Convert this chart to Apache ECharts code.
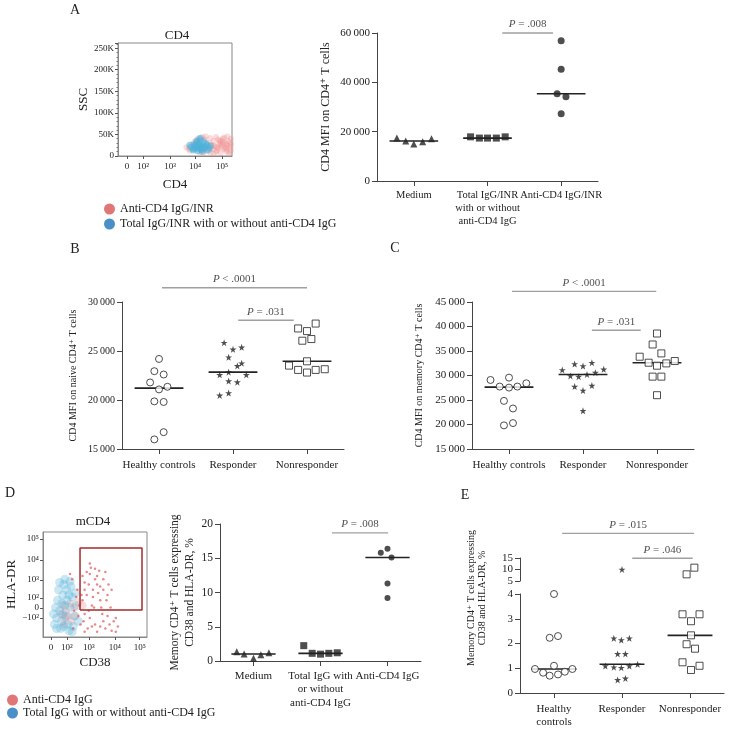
<!DOCTYPE html>
<html>
<head>
<meta charset="utf-8">
<script src="https://cdn.jsdelivr.net/npm/echarts@6/dist/echarts.min.js"></script>
<style>
html, body { margin: 0; padding: 0; background: #fff; }
#fig { width: 731px; height: 729px; }
</style>
</head>
<body>
<div id="fig"></div>
<script>
// ---- data ----
// A: flow plot, x in plot units (0..1 over biexponential scale), y = SSC in K
var flowAXPos = [0.079, 0.22, 0.456, 0.675, 0.912];
var flowAXLabels = ["0", "10\u00b2", "10\u00b3", "10\u2074", "10\u2075"];
var flowARed = [[0.85,22],[0.90,25],[0.95,28],[0.98,20],[0.88,18],[0.93,15],[0.80,30],[0.84,35],[0.92,33],[0.97,35],
  [0.78,12],[0.86,10],[0.95,11],[0.99,14],[0.82,26],[0.89,29],[0.96,24],[0.76,38],[0.88,38],[0.94,19],
  [0.99,30],[0.83,16],[0.91,21],[0.87,13],[0.79,20],[0.62,16],[0.65,28],[0.75,8],[0.98,9],[0.92,40],
  [0.60,20],[0.63,12],[0.67,33],[0.70,40],[0.72,8],[0.74,44],[0.77,45],[0.81,42],[0.84,6],[0.86,44],
  [0.90,7],[0.93,43],[0.96,45],[0.99,40],[0.97,5],[0.90,36],[0.84,24],[0.94,31],[0.81,8],[0.70,35],
  [0.99,25],[0.89,33],[0.92,27],[0.87,20],[0.95,17]];
var flowABlue = [[0.72,21],[0.70,18],[0.74,24],[0.68,22],[0.76,20],[0.71,27],[0.73,15],[0.66,17],[0.78,25],[0.69,30],
  [0.75,33],[0.72,37],[0.64,20],[0.80,18],[0.67,26],[0.77,29],[0.70,12],[0.74,11],[0.63,25],[0.81,23],
  [0.72,41],[0.69,35],[0.66,14],[0.79,14],[0.73,19],[0.71,23],[0.75,16],[0.68,19]];

// A: scatter
var catsA = ["Medium", "Total IgG/INR\nwith or without\nanti-CD4 IgG", "Anti-CD4 IgG/INR"];
var aMedium = [17400, 16200, 15000, 15900, 17100];
var aTotal = [17900, 17400, 17400, 17400, 17900];
var aAnti = [56900, 45300, 35400, 34200, 27300];
var jitAMed = [-0.23, -0.11, 0, 0.12, 0.24];
var jitATot = [-0.23, -0.11, 0, 0.12, 0.24];
var jitAAnti = [0, 0, -0.055, 0.065, 0];

// B / C
var catsBC = ["Healthy controls", "Responder", "Nonresponder"];
var bHealthy = [24190, 22940, 22600, 21790, 21080, 21350, 19860, 19800, 16720, 15980];
var bResponder = [25845, 25170, 25370, 24360, 23480, 23750, 22570, 22840, 22570, 21930, 21820, 20470, 20710];
var bNonresp = [27800, 27300, 27030, 26050, 26220, 23950, 23510, 23070, 22800, 23070, 23140];
var jitBH = [0, -0.063, 0.063, -0.12, 0, 0.114, -0.063, 0.063, 0.063, -0.063];
var jitBR = [-0.12, 0, 0.117, -0.059, 0.059, 0.117, -0.18, -0.059, 0.18, -0.059, 0.059, -0.18, -0.059];
var jitBN = [0.117, -0.12, 0, -0.063, 0.059, 0, -0.243, -0.12, 0, 0.117, 0.24];

var cHealthy = [29090, 29560, 27740, 27530, 27740, 28410, 24820, 23270, 19820, 20290];
var cResponder = [31120, 32340, 31930, 32610, 31260, 29900, 29770, 30200, 30580, 27740, 26930, 27940, 22800];
var cNonresp = [38570, 36330, 34510, 33830, 32610, 32000, 32470, 32950, 29770, 29770, 25980];
var jitCH = [-0.25, 0, -0.126, 0, 0.113, 0.234, -0.068, 0.054, -0.068, 0.054];
var jitCR = [-0.28, -0.113, 0, 0.12, 0.28, -0.17, -0.059, 0.054, 0.167, -0.113, 0, 0.12, 0];
var jitCN = [0, -0.059, 0.059, -0.234, -0.113, 0, 0.126, 0.24, -0.059, 0.059, 0];

// D: flow plot, both axes in plot units (0..1)
var flowDXPos = [0.077, 0.23, 0.44, 0.69, 0.93];
var flowDXLabels = ["0", "10\u00b2", "10\u00b3", "10\u2074", "10\u2075"];
var flowDYPos = [0.181, 0.276, 0.371, 0.543, 0.733, 0.933];
var flowDYLabels = ["\u221210\u00b2", "0", "10\u00b2", "10\u00b3", "10\u2074", "10\u2075"];
var gateD = [[0.356,0.257],[0.952,0.257],[0.952,0.848],[0.356,0.848],[0.356,0.257]];
var flowDRed = [[0.30,0.25],[0.35,0.30],[0.38,0.35],[0.40,0.22],[0.45,0.18],[0.50,0.12],
  [0.55,0.10],[0.60,0.08],[0.42,0.40],[0.48,0.45],[0.52,0.50],[0.58,0.55],[0.45,0.60],[0.40,0.52],[0.55,0.35],[0.62,0.40],
  [0.65,0.28],[0.68,0.15],[0.70,0.05],[0.50,0.65],[0.38,0.58],[0.60,0.62],[0.33,0.45],[0.28,0.55],[0.47,0.30],[0.57,0.22],
  [0.43,0.08],[0.36,0.12],[0.26,0.60],[0.53,0.42],[0.63,0.50],
  [0.40,0.45],[0.44,0.50],[0.48,0.38],[0.52,0.58],[0.46,0.66],[0.55,0.48],[0.42,0.62],[0.50,0.55],[0.58,0.45],[0.61,0.35],
  [0.37,0.40],[0.45,0.70],[0.54,0.63],[0.49,0.28],[0.66,0.45],[0.52,0.05],[0.58,0.15],[0.64,0.12],[0.70,0.18],[0.72,0.10],
  [0.47,0.10],[0.40,0.05],[0.62,0.20],[0.66,0.06],[0.34,0.20],[0.39,0.15],[0.44,0.25],[0.32,0.38],[0.56,0.28],[0.29,0.08]];
var flowDRedCore = [[0.20,0.12],[0.21,0.18],[0.22,0.25],[0.19,0.30],[0.24,0.20],[0.26,0.32],[0.30,0.28],[0.34,0.33],
  [0.38,0.30],[0.27,0.15],[0.31,0.20],[0.17,0.22]];
var flowDBlue = [[0.21,0.30],[0.19,0.40],[0.23,0.45],[0.20,0.50],[0.22,0.20],[0.18,0.15],[0.24,0.12],[0.16,0.25],[0.26,0.28],[0.14,0.35],
  [0.28,0.38],[0.17,0.08],[0.25,0.06],[0.13,0.18],[0.30,0.20],[0.21,0.55],[0.15,0.45],[0.27,0.48],[0.12,0.28],[0.32,0.30],
  [0.19,0.22],[0.23,0.35],[0.20,0.10],[0.29,0.10],[0.11,0.12],[0.34,0.15],[0.18,0.32],[0.25,0.40],
  [0.16,0.52],[0.26,0.53],[0.13,0.08],[0.28,0.05],[0.31,0.42],[0.10,0.22]];

// D: scatter
var catsD = ["Medium", "Total IgG with\nor without\nanti-CD4 IgG", "Anti-CD4 IgG"];
var dMedium = [1.36, 1.02, 0.39, 0.9, 1.21];
var dTotal = [2.24, 1.12, 1.0, 1.12, 1.2];
var dAnti = [16.4, 15.8, 15.1, 11.3, 9.2];
var jitDMed = [-0.25, -0.14, 0, 0.11, 0.23];
var jitDTot = [-0.25, -0.124, 0, 0.124, 0.25];
var jitDAnti = [0, -0.1, 0.06, 0, 0];

// E: broken axis (0-4 and 5-15)
var catsE = ["Healthy\ncontrols", "Responder", "Nonresponder"];
var eHealthy = [4.0, 2.23, 2.3, 1.1, 0.97, 0.82, 0.7, 0.75, 0.86, 0.97];
var eResponder = [10, 2.21, 2.14, 2.21, 1.58, 1.58, 1.09, 1.04, 1.02, 1.09, 1.16, 0.53, 0.59];
var eNonresp = [7.9, 10.8, 3.18, 3.18, 2.9, 2.33, 1.97, 1.79, 1.24, 0.93, 1.1];
var jitEH = [0, -0.064, 0.059, 0, -0.28, -0.16, -0.064, 0.059, 0.16, 0.27];
var jitER = [0, -0.12, -0.01, 0.108, -0.064, 0.05, -0.245, -0.12, -0.01, 0.108, 0.23, -0.064, 0.05];
var jitEN = [-0.05, 0.064, -0.11, 0.14, 0.015, 0.015, -0.05, 0.074, -0.11, 0.015, 0.14];
var eBreak = 4.5;

// significance bars: [axis, x1, x2, y, text]
var sigBars = [
  [1, 1.70, 2.39, 60000, "{i|P} = .008"],
  [2, 0.54, 2.50, 31460, "{i|P} < .0001"],
  [2, 1.57, 2.32, 28144, "{i|P} = .031"],
  [3, 0.54, 2.49, 47170, "{i|P} < .0001"],
  [3, 1.62, 2.28, 39245, "{i|P} = .031"],
  [5, 1.67, 2.51, 18.7, "{i|P} = .008"],
  [7, 0.62, 2.56, 25.7, "{i|P} = .015"],
  [7, 1.65, 2.54, 14.9, "{i|P} = .046"]
];

// ---- drawing ----
var SERIF = "'Liberation Serif', 'DejaVu Serif', serif";
var INK = "#222";
var AX = { color: "#444", width: 1 };
var STAR = "path://M50,0L61.8,35.3L99,35.3L68.9,57.1L80.4,92.7L50,70.9L19.6,92.7L31.1,57.1L1,35.3L38.2,35.3Z";
var RED = "#ee8a8a";
var BLUE = "#4fb0d8";

function median(a) {
  var s = a.slice().sort(function (p, q) { return p - q; });
  var n = s.length;
  return n % 2 ? s[(n - 1) / 2] : (s[n / 2 - 1] + s[n / 2]) / 2;
}

var series = [];

function group(ax, vals, jit, g, symbol, size, hollow, keep) {
  var pts = [];
  vals.forEach(function (v, i) {
    if (!keep || keep(v)) pts.push([g + 0.5 + jit[i], v]);
  });
  series.push({
    type: "scatter", xAxisIndex: ax, yAxisIndex: ax, data: pts,
    symbol: symbol, symbolSize: size, silent: true, z: 4,
    itemStyle: hollow ? { color: "#fff", borderColor: INK, borderWidth: 1 } : { color: INK }
  });
}

function medLine(ax, vals, g) {
  var m = median(vals);
  series.push({
    type: "line", xAxisIndex: ax, yAxisIndex: ax, data: [[g + 0.17, m], [g + 0.83, m]],
    symbol: "none", silent: true, z: 3, lineStyle: { color: INK, width: 1.6 }
  });
}

function catX(grid, cats, fontSize, margin) {
  return {
    gridIndex: grid, type: "value", min: 0, max: 3,
    axisLine: { show: true, onZero: false, lineStyle: AX },
    axisTick: { show: true, length: 5, customValues: [0.5, 1.5, 2.5], lineStyle: AX },
    axisLabel: {
      customValues: [0.5, 1.5, 2.5], margin: margin, fontFamily: SERIF, fontSize: fontSize,
      color: INK, lineHeight: fontSize + 2.5,
      formatter: function (v) { return cats[Math.floor(v)]; }
    },
    splitLine: { show: false }
  };
}

function valY(grid, min, max, interval, fontSize, fmt, name, nameSize, nameGap, nameLH) {
  return {
    gridIndex: grid, type: "value", min: min, max: max, interval: interval,
    axisLine: { show: true, lineStyle: AX },
    axisTick: { show: true, length: 5, lineStyle: AX },
    axisLabel: { margin: 7, fontFamily: SERIF, fontSize: fontSize, color: INK, formatter: fmt },
    splitLine: { show: false },
    name: name, nameLocation: "middle", nameGap: nameGap,
    nameTextStyle: { fontFamily: SERIF, fontSize: nameSize, color: INK, lineHeight: nameLH || nameSize + 2 }
  };
}

function thousands(v) {
  if (v < 1000) return String(v);
  var s = String(v);
  return s.slice(0, s.length - 3) + "\u2009" + s.slice(s.length - 3);
}
function plain(v) { return String(v); }

function flowAxis(grid, pos, labels, name, nameGap, isY) {
  return {
    gridIndex: grid, type: "value", min: 0, max: 1,
    axisLine: { show: true, onZero: false, lineStyle: { color: "#888" } },
    axisTick: { show: true, length: 3, customValues: pos, lineStyle: { color: "#555" } },
    axisLabel: {
      customValues: pos, margin: isY ? 4 : 6, fontFamily: SERIF, fontSize: 9, color: INK,
      formatter: function (v) { return labels[pos.indexOf(v)]; }
    },
    splitLine: { show: false },
    name: name, nameLocation: "middle", nameGap: nameGap,
    nameTextStyle: { fontFamily: SERIF, fontSize: 13, color: INK }
  };
}

// flow clouds
function cloud(ax, name, pts, color, size, op) {
  series.push({
    type: "scatter", name: name, xAxisIndex: ax, yAxisIndex: ax, data: pts,
    symbolSize: size, silent: true, z: 2, itemStyle: { color: color, opacity: op }
  });
}
cloud(0, "Anti-CD4 IgG/INR", flowARed, RED, 6, 0.3);
cloud(0, "Total IgG/INR with or without anti-CD4 IgG", flowABlue, BLUE, 7, 0.55);
cloud(4, "Anti-CD4 IgG", flowDRedCore, RED, 8, 0.3);
cloud(4, "Total IgG with or without anti-CD4 IgG", flowDBlue, BLUE, 9, 0.3);
cloud(4, "Anti-CD4 IgG", flowDRed, "#e06060", 2.5, 0.75);
series.push({
  type: "line", xAxisIndex: 4, yAxisIndex: 4, data: gateD, symbol: "none", silent: true, z: 5,
  lineStyle: { color: "#a52a2a", width: 1.5 }
});

// A scatter
group(1, aMedium, jitAMed, 0, "triangle", 7, false);
group(1, aTotal, jitATot, 1, "rect", 7, false);
group(1, aAnti, jitAAnti, 2, "circle", 7, false);
medLine(1, aMedium, 0); medLine(1, aTotal, 1); medLine(1, aAnti, 2);

// B
group(2, bHealthy, jitBH, 0, "circle", 7, true);
group(2, bResponder, jitBR, 1, STAR, 7, false);
group(2, bNonresp, jitBN, 2, "rect", 7, true);
medLine(2, bHealthy, 0); medLine(2, bResponder, 1); medLine(2, bNonresp, 2);

// C
group(3, cHealthy, jitCH, 0, "circle", 7, true);
group(3, cResponder, jitCR, 1, STAR, 7, false);
group(3, cNonresp, jitCN, 2, "rect", 7, true);
medLine(3, cHealthy, 0); medLine(3, cResponder, 1); medLine(3, cNonresp, 2);

// D scatter
group(5, dMedium, jitDMed, 0, "triangle", 7, false);
group(5, dTotal, jitDTot, 1, "rect", 7, false);
group(5, dAnti, jitDAnti, 2, "circle", 6, false);
medLine(5, dMedium, 0); medLine(5, dTotal, 1); medLine(5, dAnti, 2);

// E broken axis
var low = function (v) { return v <= eBreak; };
var high = function (v) { return v > eBreak; };
[[eHealthy, jitEH, "circle", true], [eResponder, jitER, STAR, false], [eNonresp, jitEN, "rect", true]].forEach(function (d, g) {
  group(6, d[0], d[1], g, d[2], 7, d[3], low);
  group(7, d[0], d[1], g, d[2], 7, d[3], high);
  medLine(6, d[0], g);
});

// significance bars
sigBars.forEach(function (s) {
  series.push({
    type: "line", xAxisIndex: s[0], yAxisIndex: s[0], data: [[s[1], s[3]], [s[2], s[3]]],
    symbol: "none", clip: false, silent: true, lineStyle: { color: "#a0a0a0", width: 1.4 }
  });
  series.push({
    type: "scatter", xAxisIndex: s[0], yAxisIndex: s[0], data: [[(s[1] + s[2]) / 2, s[3]]],
    symbolSize: 0, clip: false, silent: true,
    label: {
      show: true, position: "top", distance: 3, formatter: s[4],
      fontFamily: SERIF, fontSize: 11, color: INK,
      rich: { i: { fontStyle: "italic", fontFamily: SERIF, fontSize: 11, color: INK } }
    }
  });
});

function txt(t, x, y, size, align) {
  return {
    type: "text", x: x, y: y, silent: true,
    style: { text: t, font: size + "px " + SERIF, fill: INK, textAlign: align || "center", textVerticalAlign: "middle" }
  };
}

var option = {
  animation: false,
  backgroundColor: "#fff",
  textStyle: { fontFamily: SERIF },
  grid: [
    { left: 118, top: 43, width: 114, height: 113, show: true, borderColor: "#888", borderWidth: 1 },
    { left: 377, top: 33, width: 221, height: 148 },
    { left: 122, top: 302, width: 222, height: 147 },
    { left: 472, top: 302, width: 222, height: 147 },
    { left: 43, top: 532, width: 104, height: 105, show: true, borderColor: "#888", borderWidth: 1 },
    { left: 220, top: 524, width: 201, height: 137 },
    { left: 520, top: 594, width: 204, height: 99 },
    { left: 520, top: 558, width: 204, height: 23 }
  ],
  xAxis: [
    flowAxis(0, flowAXPos, flowAXLabels, "CD4", 22, false),
    catX(1, catsA, 10.5, 8),
    catX(2, catsBC, 11, 9),
    catX(3, catsBC, 11, 9),
    flowAxis(4, flowDXPos, flowDXLabels, "CD38", 19, false),
    catX(5, catsD, 11, 8),
    catX(6, catsE, 11, 9),
    { gridIndex: 7, type: "value", min: 0, max: 3, show: false }
  ],
  yAxis: [
    {
      gridIndex: 0, type: "value", min: 0, max: 262, interval: 50,
      axisLine: { show: true, lineStyle: { color: "#888" } },
      axisTick: { show: true, length: 3, lineStyle: { color: "#555" } },
      minorTick: { show: true, splitNumber: 5, length: 1.5, lineStyle: { color: "#777" } },
      axisLabel: { margin: 4, fontFamily: SERIF, fontSize: 9, color: INK,
        formatter: function (v) { return v === 0 ? "0" : v + "K"; } },
      splitLine: { show: false },
      name: "SSC", nameLocation: "middle", nameGap: 28,
      nameTextStyle: { fontFamily: SERIF, fontSize: 13, color: INK }
    },
    valY(1, 0, 60000, 20000, 11, thousands, "CD4 MFI on CD4\u207a T cells", 12, 44),
    valY(2, 15000, 30000, 5000, 10, thousands, "CD4 MFI on naive CD4\u207a T cells", 10, 43),
    valY(3, 15000, 45000, 5000, 11, thousands, "CD4 MFI on memory CD4\u207a T cells", 10, 47),
    flowAxis(4, flowDYPos, flowDYLabels, "HLA-DR", 24, true),
    valY(5, 0, 20, 5, 11.5, plain, "Memory CD4\u207a T cells expressing\nCD38 and HLA-DR, %", 11.5, 23, 15),
    valY(6, 0, 4, 1, 11, plain, "", 10, 30),
    valY(7, 5, 15, 5, 11, plain, "", 10, 30)
  ],
  legend: [
    {
      left: 99, top: 198, orient: "vertical", icon: "circle", itemWidth: 11, itemHeight: 11, itemGap: 3,
      selectedMode: false, textStyle: { fontFamily: SERIF, fontSize: 12, color: INK },
      data: [
        { name: "Anti-CD4 IgG/INR", itemStyle: { color: "#e07676", opacity: 1 } },
        { name: "Total IgG/INR with or without anti-CD4 IgG", itemStyle: { color: "#4a90c8", opacity: 1 } }
      ]
    },
    {
      left: 2, top: 689, orient: "vertical", icon: "circle", itemWidth: 11, itemHeight: 11, itemGap: 1,
      selectedMode: false, textStyle: { fontFamily: SERIF, fontSize: 12, color: INK },
      data: [
        { name: "Anti-CD4 IgG", itemStyle: { color: "#e07676", opacity: 1 } },
        { name: "Total IgG with or without anti-CD4 IgG", itemStyle: { color: "#4a90c8", opacity: 1 } }
      ]
    }
  ],
  graphic: [
    txt("A", 75, 10, 14),
    txt("CD4", 177, 36, 13),
    txt("B", 75, 249, 14),
    txt("C", 395, 248, 14),
    txt("D", 10, 493, 14),
    txt("mCD4", 93, 522, 13),
    txt("E", 465, 495, 14),
    {
      type: "text", x: 477, y: 598, rotation: Math.PI / 2, silent: true,
      style: { text: "Memory CD4\u207a T cells expressing\nCD38 and HLA-DR, %", font: "10px " + SERIF,
        fill: INK, textAlign: "center", textVerticalAlign: "middle", lineHeight: 10.5 }
    }
  ],
  series: series
};

var chart = echarts.init(document.getElementById("fig"));
chart.setOption(option);
</script>
</body>
</html>
